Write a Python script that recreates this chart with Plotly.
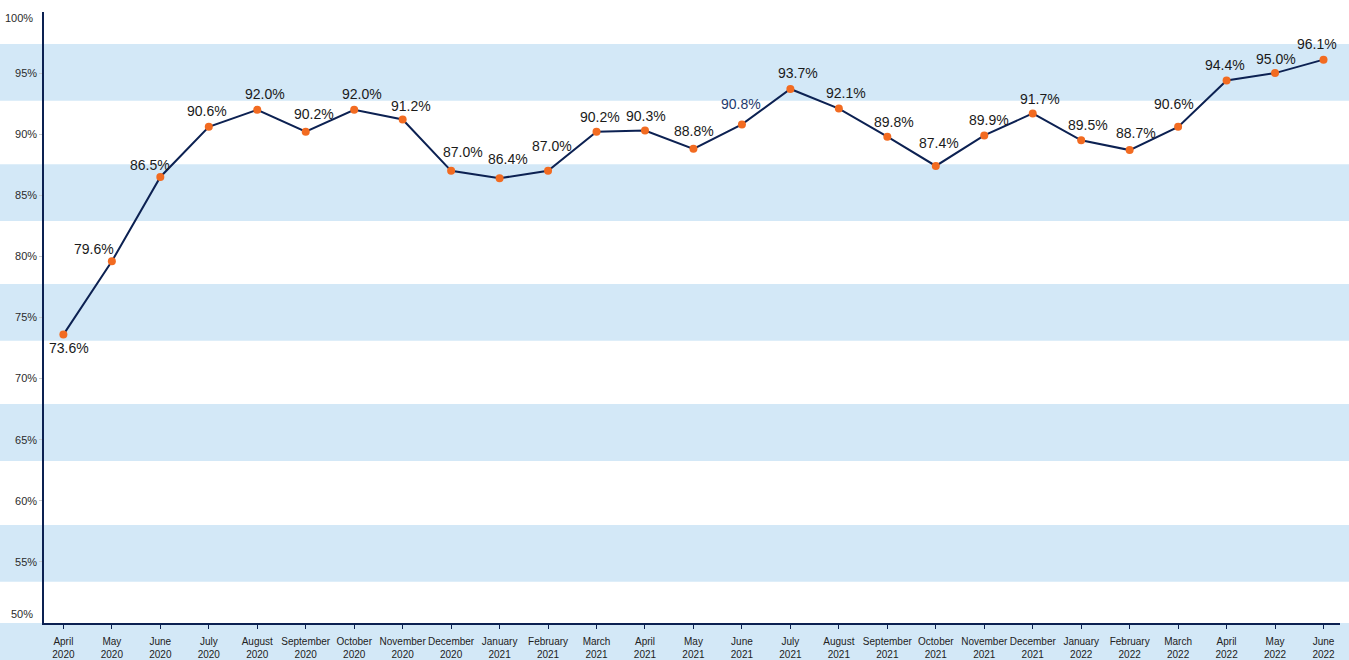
import plotly.graph_objects as go

months = ["April", "May", "June", "July", "August", "September", "October", "November", "December",
          "January", "February", "March", "April", "May", "June", "July", "August", "September",
          "October", "November", "December", "January", "February", "March", "April", "May", "June"]
years = ["2020"] * 9 + ["2021"] * 12 + ["2022"] * 6
values = [73.6, 79.6, 86.5, 90.6, 92.0, 90.2, 92.0, 91.2, 87.0, 86.4, 87.0, 90.2, 90.3, 88.8,
          90.8, 93.7, 92.1, 89.8, 87.4, 89.9, 91.7, 89.5, 88.7, 90.6, 94.4, 95.0, 96.1]
y_ticks = [55, 60, 65, 70, 75, 80, 85, 90, 95]

categories = [f"{m}<br>{y}" for m, y in zip(months, years)]

# label styling offsets (pixels)
label_dx = [5.5, -18, -10, -1.4, 7.5, 8.2, 7.9, 8, 12, 8, 4.2, 3, 1, 1, -1, 7.6, 7.2, 7, 3, 5,
            7.5, 7, 6.2, -3.8, -2, 1, -7]
label_dy = [-13, 12.7, 12.4, 15.4, 15.4, 17.3, 15.4, 14, 19, 19.3, 25, 15, 15, 18, 20, 16, 16,
            14.4, 23.3, 15.4, 14.7, 15, 16.7, 22.4, 15, 13.7, 15.7]

W, H = 1349, 660
L, R, T, B = 44, 9, 12, 37
PW, PH = W - L - R, H - T - B

BAND = "#d3e8f7"
NAVY = "#0c2152"
ORANGE = "#f26b21"
FONT = "Liberation Sans, Arial, sans-serif"


def px_to_paper_y(py):
    return (H - B - py) / PH


x_left = -L / PW
x_right = (W - L) / PW

shapes = []
for top, bot in [(44, 100.7), (164.3, 221), (284, 340.7), (404, 461), (525, 581.7), (623, 660)]:
    shapes.append(dict(type="rect", xref="paper", yref="paper", x0=x_left, x1=x_right,
                       y0=px_to_paper_y(bot), y1=px_to_paper_y(top),
                       fillcolor=BAND, line=dict(width=0), layer="below"))

fig = go.Figure()
fig.add_trace(go.Scatter(
    x=categories, y=values, mode="lines+markers",
    line=dict(color=NAVY, width=2),
    marker=dict(color=ORANGE, size=8),
    hoverinfo="skip", showlegend=False,
))

annotations = []
for i, (c, v) in enumerate(zip(categories, values)):
    annotations.append(dict(
        x=c, y=v, xref="x", yref="y", text=f"{v:.1f}%", showarrow=False,
        xshift=label_dx[i], yshift=label_dy[i], xanchor="center", yanchor="middle",
        font=dict(family=FONT, size=14, color="#1f3a6e" if i == 14 else "#1a1a1a"),
    ))

# edge tick labels (shifted inward like the original)
for txt, py in [("100%", 18), ("50%", 614)]:
    annotations.append(dict(
        x=0, y=px_to_paper_y(py), xref="paper", yref="paper", text=txt, showarrow=False,
        xshift=-9, xanchor="right", yanchor="middle",
        font=dict(family=FONT, size=11, color="#2b2b2b"),
    ))

fig.update_layout(
    width=W, height=H,
    margin=dict(l=L, r=R, t=T, b=B, pad=0, autoexpand=False),
    paper_bgcolor="white", plot_bgcolor="rgba(0,0,0,0)",
    shapes=shapes, annotations=annotations,
    font=dict(family=FONT),
)
fig.update_xaxes(
    type="category", range=[-0.4, 26.34],
    showline=True, linecolor=NAVY, linewidth=1.5,
    ticks="outside", ticklen=4, tickcolor=NAVY, tickwidth=1,
    showgrid=False, zeroline=False, tickangle=0, automargin=False,
    ticklabelstandoff=4,
    tickfont=dict(family=FONT, size=10, color="#222222"),
)
fig.update_yaxes(
    range=[50, 100], tickvals=y_ticks, ticktext=[f"{t}%" for t in y_ticks],
    showline=True, linecolor=NAVY, linewidth=1.5,
    ticks="outside", ticklen=3, tickcolor="#cccccc", tickwidth=1,
    showgrid=False, zeroline=False, automargin=False,
    tickfont=dict(family=FONT, size=11, color="#2b2b2b"),
)

fig.write_html(
    "out.html",
    config={"displayModeBar": False},
    post_script="document.body.style.margin='0';document.body.style.overflow='hidden';",
)
